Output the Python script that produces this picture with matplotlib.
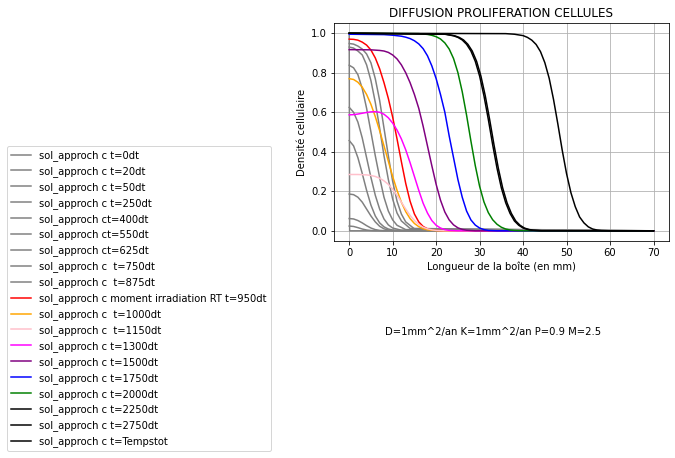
import matplotlib
matplotlib.use("Agg")
import matplotlib.pyplot as plt

# profils de densite (x en mm, c densite)
x_t0 = [0, 0.1, 70]
c_t0 = [1.0, 0.0, 0.0]
x_t20 = [0, 1, 2, 3, 4, 5, 6, 70]
c_t20 = [0.024, 0.022, 0.016, 0.009, 0.004, 0.0015, 0.0005, 0]
x_t50 = [0, 1, 2, 3, 4, 5, 6, 7, 8, 70]
c_t50 = [0.062, 0.060, 0.052, 0.040, 0.026, 0.014, 0.006, 0.002, 0.0005, 0]
x_t250 = [0, 1, 2, 3, 4, 5, 6, 7, 8, 9, 10, 70]
c_t250 = [0.186, 0.183, 0.17, 0.145, 0.11, 0.075, 0.045, 0.023, 0.01, 0.004, 0.001, 0]
x_t400 = [0, 1, 2, 3, 4, 5, 6, 7, 8, 9, 10, 12, 70]
c_t400 = [0.457, 0.43, 0.37, 0.29, 0.205, 0.13, 0.075, 0.04, 0.02, 0.009, 0.004, 0.001, 0]
x_t550 = [0, 1, 2, 3, 4, 5, 6, 7, 8, 9, 10, 12, 70]
c_t550 = [0.625, 0.6, 0.55, 0.47, 0.37, 0.27, 0.18, 0.11, 0.06, 0.03, 0.014, 0.003, 0]
x_t625 = [0, 1, 2, 3, 4, 5, 6, 7, 8, 9, 10, 11, 13, 70]
c_t625 = [0.838, 0.825, 0.79, 0.72, 0.62, 0.5, 0.38, 0.27, 0.17, 0.1, 0.055, 0.028, 0.006, 0]
x_t750 = [0, 1, 2, 3, 4, 5, 6, 7, 8, 9, 10, 11, 12, 14, 70]
c_t750 = [0.93, 0.925, 0.91, 0.89, 0.84, 0.76, 0.65, 0.52, 0.38, 0.26, 0.16, 0.09, 0.05, 0.012, 0]
x_t875 = [0, 1, 2, 3, 4, 5, 6, 7, 8, 9, 10, 11, 12, 13, 15, 70]
c_t875 = [0.948, 0.945, 0.935, 0.92, 0.895, 0.85, 0.77, 0.66, 0.52, 0.38, 0.25, 0.15, 0.085, 0.045, 0.01, 0]
x_t950 = [0, 1, 2, 3, 4, 5, 6, 7, 8, 9, 10, 11, 12, 13, 14, 15, 16, 17, 18, 19, 20, 22, 70]
c_t950 = [0.97, 0.969, 0.965, 0.955, 0.94, 0.915, 0.875, 0.82, 0.75, 0.67, 0.575, 0.465, 0.35, 0.24, 0.15, 0.085,
          0.045, 0.022, 0.01, 0.004, 0.002, 0, 0]
x_t1000 = [0, 1, 2, 3, 4, 5, 6, 7, 8, 9, 10, 11, 12, 13, 14, 15, 16, 17, 18, 20, 22, 70]
c_t1000 = [0.77, 0.766, 0.752, 0.727, 0.69, 0.64, 0.578, 0.507, 0.43, 0.352, 0.275, 0.205, 0.145, 0.097, 0.062,
           0.037, 0.021, 0.011, 0.005, 0.001, 0, 0]
x_t1150 = [0, 2, 4, 5, 6, 7, 8, 9, 10, 11, 12, 13, 14, 15, 16, 17, 18, 19, 20, 22, 70]
c_t1150 = [0.285, 0.285, 0.283, 0.28, 0.275, 0.266, 0.253, 0.235, 0.21, 0.18, 0.145, 0.11, 0.078, 0.052, 0.032,
           0.018, 0.01, 0.005, 0.002, 0, 0]
x_t1300 = [0, 1, 2, 3, 4, 5, 6, 7, 8, 9, 10, 11, 12, 13, 14, 15, 16, 17, 18, 19, 20, 21, 22, 23, 25, 70]
c_t1300 = [0.587, 0.588, 0.591, 0.595, 0.599, 0.602, 0.603, 0.6, 0.59, 0.572, 0.545, 0.51, 0.465, 0.41, 0.345,
           0.275, 0.205, 0.14, 0.09, 0.052, 0.028, 0.014, 0.006, 0.002, 0, 0]
x_t1500 = [0, 5, 7, 8, 9, 10, 11, 12, 13, 14, 15, 16, 17, 18, 19, 20, 21, 22, 23, 24, 25, 26, 27, 29, 70]
c_t1500 = [0.917, 0.916, 0.913, 0.91, 0.903, 0.89, 0.87, 0.84, 0.8, 0.75, 0.69, 0.62, 0.53, 0.43, 0.33, 0.235,
           0.155, 0.095, 0.055, 0.03, 0.015, 0.007, 0.003, 0, 0]
x_t1750 = [0, 8, 10, 12, 13, 14, 15, 16, 17, 18, 19, 20, 21, 22, 23, 24, 25, 26, 27, 28, 29, 30, 31, 32, 34, 70]
c_t1750 = [0.995, 0.993, 0.99, 0.985, 0.98, 0.973, 0.962, 0.946, 0.922, 0.886, 0.835, 0.77, 0.69, 0.6, 0.48,
           0.37, 0.26, 0.17, 0.1, 0.055, 0.029, 0.014, 0.006, 0.002, 0, 0]
x_t2000 = [0, 16, 18, 19, 20, 21, 22, 23, 24, 25, 26, 27, 28, 29, 30, 31, 32, 33, 34, 35, 36, 37, 38, 40, 70]
c_t2000 = [1.0, 0.998, 0.994, 0.9895, 0.9825, 0.971, 0.951, 0.92, 0.872, 0.801, 0.704, 0.585, 0.454, 0.33, 0.225,
           0.146, 0.092, 0.056, 0.033, 0.018, 0.009, 0.004, 0.0015, 0, 0]
x_t2250 = [0, 22, 24, 25, 26, 27, 28, 29, 30, 31, 32, 33, 34, 35, 36, 37, 38, 39, 40, 41, 42, 44, 70]
c_t2250 = [1.0, 0.995, 0.987, 0.979, 0.966, 0.944, 0.91, 0.858, 0.783, 0.683, 0.564, 0.436, 0.317, 0.217, 0.142,
           0.088, 0.05, 0.028, 0.014, 0.007, 0.003, 0.0005, 0]
x_t2750 = [0, 22.3, 24.3, 25.3, 26.3, 27.3, 28.3, 29.3, 30.3, 31.3, 32.3, 33.3, 34.3, 35.3, 36.3, 37.3, 38.3, 39.3,
           40.3, 41.3, 42.3, 44.3, 70]
c_t2750 = [1.0, 0.995, 0.987, 0.979, 0.966, 0.944, 0.91, 0.858, 0.783, 0.683, 0.564, 0.436, 0.317, 0.217, 0.142,
           0.088, 0.05, 0.028, 0.014, 0.007, 0.003, 0.0005, 0]
x_tot = [0, 36, 38, 40, 41, 42, 43, 44, 45, 46, 47, 48, 49, 50, 51, 52, 53, 54, 55, 56, 57, 58, 60, 70]
c_tot = [1.0, 0.998, 0.995, 0.988, 0.979, 0.965, 0.943, 0.907, 0.851, 0.772, 0.665, 0.54, 0.408, 0.289, 0.193,
         0.122, 0.07, 0.04, 0.02, 0.009, 0.004, 0.0015, 0, 0]

courbes = [
    (x_t0, c_t0, 'gray', "sol_approch c t=0dt"),
    (x_t20, c_t20, 'gray', "sol_approch c t=20dt"),
    (x_t50, c_t50, 'gray', "sol_approch c t=50dt"),
    (x_t250, c_t250, 'gray', "sol_approch c t=250dt"),
    (x_t400, c_t400, 'gray', "sol_approch ct=400dt"),
    (x_t550, c_t550, 'gray', "sol_approch ct=550dt"),
    (x_t625, c_t625, 'gray', "sol_approch ct=625dt"),
    (x_t750, c_t750, 'gray', "sol_approch c  t=750dt"),
    (x_t875, c_t875, 'gray', "sol_approch c  t=875dt"),
    (x_t950, c_t950, 'red', "sol_approch c moment irradiation RT t=950dt"),
    (x_t1000, c_t1000, 'orange', "sol_approch c  t=1000dt"),
    (x_t1150, c_t1150, 'pink', "sol_approch c  t=1150dt"),
    (x_t1300, c_t1300, 'magenta', "sol_approch c t=1300dt"),
    (x_t1500, c_t1500, 'purple', "sol_approch c t=1500dt"),
    (x_t1750, c_t1750, 'blue', "sol_approch c t=1750dt"),
    (x_t2000, c_t2000, 'green', "sol_approch c t=2000dt"),
    (x_t2250, c_t2250, 'black', "sol_approch c t=2250dt"),
    (x_t2750, c_t2750, 'black', "sol_approch c t=2750dt"),
    (x_tot, c_tot, 'black', "sol_approch c t=Tempstot"),
]

fig = plt.figure(figsize=(675 / 72, 458 / 72), dpi=72)
ax = fig.add_axes([0.4948, 0.4745, 0.4959, 0.4745])

for xs, cs, coul, lab in courbes:
    ax.plot(xs, cs, color=coul, label=lab)

ax.set_title("DIFFUSION PROLIFERATION CELLULES")
ax.set_xlabel("Longueur de la boîte (en mm)")
ax.set_ylabel("Densité cellulaire")
ax.grid(True)

ax.legend(loc='upper left', bbox_to_anchor=(7 / 675, 1 - 146 / 458),
          bbox_transform=fig.transFigure, borderaxespad=0)

fig.text(385 / 675, 1 - 332 / 458, "D=1mm^2/an K=1mm^2/an P=0.9 M=2.5",
         ha='left', va='center')

fig.savefig("out.png", dpi=72)
